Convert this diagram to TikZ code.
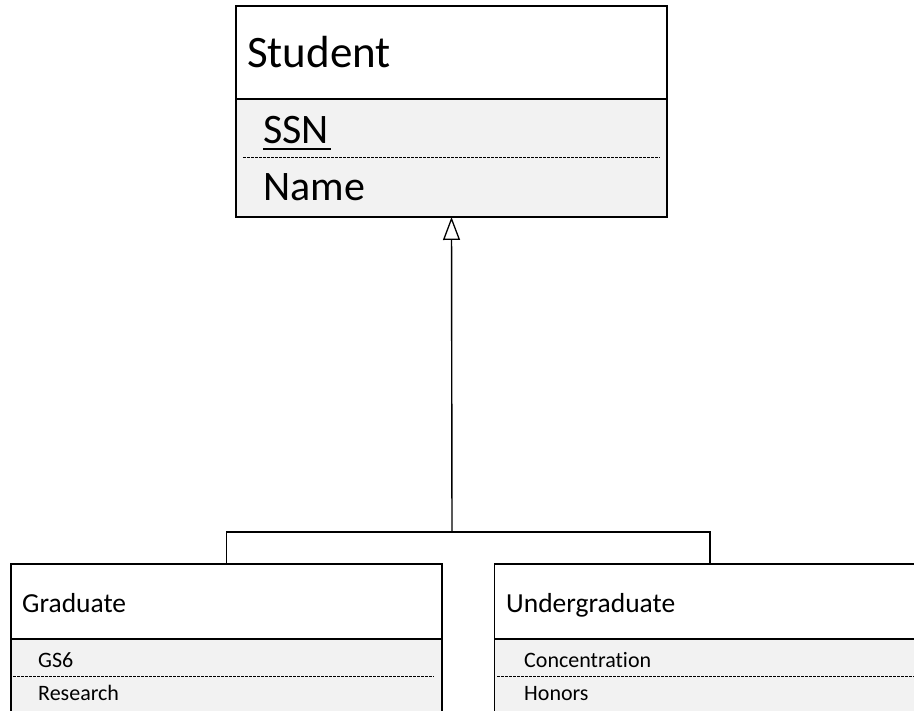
\documentclass[tikz,border=0pt]{standalone}
\usepackage{fontspec}
\setmainfont{Carlito}[Ligatures=NoCommon]
\usetikzlibrary{arrows.meta}
\tikzset{
  x=1pt, y=1pt,
  boxline/.style={draw=black, line width=1.3pt},
  hdr/.style={boxline, fill=white, inner sep=0pt, outer sep=0pt},
  attrs/.style={boxline, fill=attrgray, inner sep=0pt, outer sep=0pt},
  sep/.style={line width=0.8pt, dash pattern=on 2.5pt off 1.5pt},
  conn/.style={line width=1.4pt},
  lbl/.style={anchor=base west, inner sep=0pt, text=black},
  biglbl/.style={lbl, font=\fontsize{45}{50}\selectfont},
  bigattr/.style={lbl, font=\fontsize{42}{48}\selectfont},
  smlbl/.style={lbl, font=\fontsize{27.5}{32}\selectfont},
  smattr/.style={lbl, font=\fontsize{22}{26}\selectfont},
}
\definecolor{attrgray}{HTML}{F2F2F2}
\begin{document}
\begin{tikzpicture}
\useasboundingbox (0,0) rectangle (914,711);
% Student
\node[hdr, minimum width=431, minimum height=93] (sthdr) at (451.5,658.5) {};
\node[attrs, minimum width=431, minimum height=118] (statt) at (451.5,553) {};
\coordinate (stdl) at (243,554);
\coordinate (stdr) at (660,554);
\draw[sep] (stdl) -- (stdr);
\node[biglbl] (stname) at (247,643) {Student};
\node[bigattr] (ssn) at (263,567) {SSN};
\draw[line width=2pt] (ssn.base west) ++(0,-5) -- ++(68,0);
\node[bigattr] (nm) at (263,510) {Name};
% Graduate
\node[hdr, minimum width=431, minimum height=75] (grhdr) at (226.5,109.5) {};
\node[attrs, minimum width=431, minimum height=80] (gratt) at (226.5,32) {};
\coordinate (grdl) at (13,35);
\coordinate (grdr) at (434,35);
\draw[sep] (grdl) -- (grdr);
\node[smlbl] (grname) at (22,98) {Graduate};
\node[smattr] (gs6) at (38,43) {GS6};
\node[smattr] (res) at (38,10) {Research};
% Undergraduate
\node[hdr, minimum width=431, minimum height=75] (ughdr) at (710,109.5) {};
\node[attrs, minimum width=431, minimum height=80] (ugatt) at (710,32) {};
\coordinate (ugdl) at (497,35);
\coordinate (ugdr) at (918,35);
\draw[sep] (ugdl) -- (ugdr);
\node[smlbl] (ugname) at (506,98) {Undergraduate};
\node[smattr] (conc) at (524,43) {Concentration};
\node[smattr] (hon) at (524,10) {Honors};
% Connectors
\coordinate (junc) at (452,179);
\draw[conn] (grhdr.north) |- (junc) -| (ughdr.north);
\draw[conn, -{Triangle[open, length=23pt, width=17pt, line width=1.3pt]}] (junc) -- (statt.south);
\end{tikzpicture}
\end{document}
